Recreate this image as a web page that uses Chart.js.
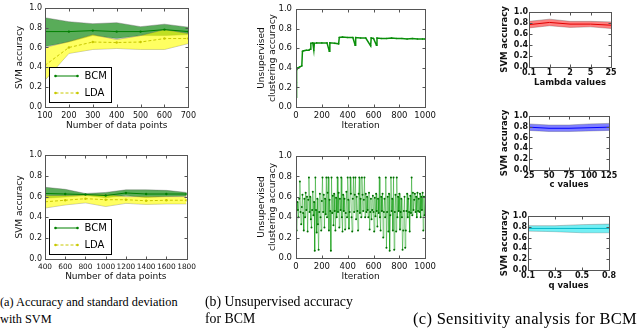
<!DOCTYPE html>
<html>
<head>
<meta charset="utf-8">
<script src="https://cdn.jsdelivr.net/npm/chart.js@4.4.1/dist/chart.umd.min.js"></script>
<style>
  body { margin: 0; background: #fff; }
  #wrap { position: relative; width: 640px; height: 330px; overflow: hidden; }
  canvas { position: absolute; }
  .cap { position: absolute; font-family: "Liberation Serif", "Times New Roman", serif; color: #000; white-space: nowrap; }
</style>
</head>
<body>
<div id="wrap">
  <canvas id="cA" width="200" height="140" style="left:0;top:0"></canvas>
  <canvas id="cB" width="200" height="150" style="left:0;top:140px"></canvas>
  <canvas id="cC" width="220" height="140" style="left:220px;top:0"></canvas>
  <canvas id="cD" width="220" height="150" style="left:220px;top:140px"></canvas>
  <canvas id="cE" width="190" height="100" style="left:450px;top:0"></canvas>
  <canvas id="cF" width="190" height="100" style="left:450px;top:110px"></canvas>
  <canvas id="cG" width="190" height="90" style="left:450px;top:210px"></canvas>
  <div class="cap" style="left:0;top:294px;font-size:12.3px;line-height:16.5px">(a) Accuracy and standard deviation<br>with SVM</div>
  <div class="cap" style="left:205px;top:294px;font-size:13.8px;line-height:16.5px">(b) Unsupervised accuracy<br>for BCM</div>
  <div class="cap" style="left:413px;top:309px;font-size:16.5px;line-height:19px;letter-spacing:0.3px">(c) Sensitivity analysis for BCM</div>
</div>
<script>
// (a) top: small data sets
const pointsSmall = [100, 200, 300, 400, 500, 600, 700];
const bcmSmallMean  = [0.76, 0.76, 0.77, 0.76, 0.76, 0.78, 0.76];
const bcmSmallUpper = [0.90, 0.86, 0.84, 0.85, 0.81, 0.835, 0.805];
const bcmSmallLower = [0.61, 0.655, 0.72, 0.69, 0.72, 0.72, 0.73];
const ldaSmallMean  = [0.42, 0.60, 0.655, 0.65, 0.655, 0.69, 0.69];
const ldaSmallUpper = [0.60, 0.66, 0.73, 0.68, 0.72, 0.78, 0.74];
const ldaSmallLower = [0.27, 0.54, 0.58, 0.59, 0.58, 0.58, 0.64];

// (a) bottom: larger data sets
const pointsLarge = [400, 600, 800, 1000, 1200, 1400, 1600, 1800];
const bcmLargeMean  = [0.63, 0.625, 0.62, 0.61, 0.635, 0.625, 0.625, 0.625];
const bcmLargeUpper = [0.69, 0.67, 0.63, 0.64, 0.665, 0.665, 0.66, 0.64];
const bcmLargeLower = [0.585, 0.595, 0.61, 0.59, 0.61, 0.59, 0.60, 0.605];
const ldaLargeMean  = [0.55, 0.565, 0.58, 0.57, 0.57, 0.56, 0.565, 0.565];
const ldaLargeUpper = [0.61, 0.61, 0.615, 0.62, 0.60, 0.60, 0.60, 0.60];
const ldaLargeLower = [0.49, 0.52, 0.54, 0.505, 0.535, 0.525, 0.53, 0.53];

// (b) top: BCM unsupervised accuracy over iterations
const bcmIter = [0, 3, 6, 15, 30, 45, 50, 60, 80, 100, 110, 115, 130, 138, 142, 160, 200, 240, 258, 262,
  300, 330, 335, 360, 400, 440, 458, 462, 500, 540, 578, 582, 600, 623, 627, 660, 700, 740, 780, 820,
  860, 900, 940, 980, 1000];
const bcmIterAcc = [0.10, 0.25, 0.38, 0.40, 0.41, 0.42, 0.57, 0.575, 0.58, 0.58, 0.59, 0.65, 0.655, 0.58, 0.65, 0.655, 0.655, 0.655, 0.57, 0.655,
  0.65, 0.645, 0.71, 0.715, 0.71, 0.71, 0.63, 0.71, 0.705, 0.705, 0.625, 0.705, 0.70, 0.63, 0.705, 0.70, 0.70, 0.705, 0.70, 0.70,
  0.695, 0.70, 0.695, 0.695, 0.695];

// (b) bottom: sampled every 5 iterations
const noisyStep = 5;
const noisyAcc = [
  0.42, 0.27, 0.55, 0.47, 0.40, 0.58, 0.75, 0.45, 0.33, 0.50,
  0.62, 0.44, 0.27, 0.58, 0.40, 0.64, 0.47, 0.60, 0.26, 0.57,
  0.79, 0.45, 0.60, 0.38, 0.30, 0.47, 0.65, 0.42, 0.55, 0.07,
  0.79, 0.47, 0.25, 0.58, 0.33, 0.08, 0.45, 0.63, 0.40, 0.27,
  0.56, 0.79, 0.45, 0.62, 0.30, 0.58, 0.43, 0.79, 0.40, 0.64,
  0.79, 0.27, 0.57, 0.46, 0.07, 0.79, 0.44, 0.61, 0.32, 0.63,
  0.46, 0.27, 0.59, 0.40, 0.79, 0.45, 0.64, 0.30, 0.58, 0.47,
  0.79, 0.40, 0.26, 0.62, 0.46, 0.58, 0.28, 0.44, 0.65, 0.40,
  0.79, 0.57, 0.29, 0.45, 0.79, 0.63, 0.40, 0.26, 0.58, 0.79,
  0.45, 0.62, 0.79, 0.38, 0.60, 0.46, 0.27, 0.63, 0.79, 0.44,
  0.58, 0.40, 0.79, 0.62, 0.46, 0.57, 0.79, 0.40, 0.63, 0.45,
  0.60, 0.47, 0.40, 0.64, 0.28, 0.45, 0.58, 0.38, 0.47, 0.61,
  0.45, 0.26, 0.59, 0.41, 0.63, 0.46, 0.31, 0.58, 0.44, 0.79,
  0.40, 0.27, 0.60, 0.46, 0.63, 0.20, 0.45, 0.58, 0.40, 0.79,
  0.10, 0.45, 0.60, 0.26, 0.63, 0.07, 0.42, 0.79, 0.46, 0.58,
  0.27, 0.79, 0.08, 0.45, 0.62, 0.26, 0.79, 0.40, 0.60, 0.46,
  0.63, 0.28, 0.45, 0.58, 0.40, 0.08, 0.27, 0.46, 0.60, 0.10,
  0.27, 0.46, 0.63, 0.40, 0.58, 0.45, 0.26, 0.61, 0.44, 0.79,
  0.42, 0.64, 0.47, 0.57, 0.63, 0.45, 0.60, 0.40, 0.64, 0.46,
  0.58, 0.45, 0.63, 0.40, 0.60, 0.47, 0.64, 0.27, 0.60, 0.42, 0.60
];

// (c) sensitivity
const lambdaLabels = ['0.1', '1', '2', '5', '25'];
const lambdaMean  = [0.77, 0.81, 0.78, 0.78, 0.76];
const lambdaUpper = [0.83, 0.87, 0.83, 0.83, 0.82];
const lambdaLower = [0.71, 0.75, 0.72, 0.73, 0.70];
const cLabels = ['25', '50', '75', '100', '125'];
const cMean  = [0.79, 0.77, 0.77, 0.78, 0.79];
const cUpper = [0.85, 0.83, 0.83, 0.85, 0.86];
const cLower = [0.73, 0.71, 0.71, 0.72, 0.73];
const qLabels = ['0.1', '0.3', '0.5', '0.8'];
const qMean  = [0.77, 0.77, 0.77, 0.77];
const qUpper = [0.82, 0.82, 0.84, 0.85];
const qLower = [0.72, 0.71, 0.69, 0.69];

const SANS = "'DejaVu Sans', sans-serif";

const pairs = (xs, ys) => ys.map((y, i) => ({ x: xs[i], y }));

// matplotlib-like box with inward ticks
const framePlugin = {
  id: 'frame',
  afterDatasetsDraw(chart) {
    const { ctx, chartArea: a, scales } = chart;
    const l = Math.round(a.left) + 0.5, r = Math.round(a.right) + 0.5;
    const t = Math.round(a.top) + 0.5, b = Math.round(a.bottom) + 0.5;
    ctx.save();
    ctx.strokeStyle = '#555';
    ctx.lineWidth = 1;
    ctx.strokeRect(l, t, r - l, b - t);
    ctx.beginPath();
    scales.x.ticks.forEach((tk, i) => {
      const px = Math.round(scales.x.getPixelForTick(i)) + 0.5;
      ctx.moveTo(px, b); ctx.lineTo(px, b - 3);
      ctx.moveTo(px, t); ctx.lineTo(px, t + 3);
    });
    scales.y.ticks.forEach((tk, i) => {
      const py = Math.round(scales.y.getPixelForTick(i)) + 0.5;
      ctx.moveTo(l, py); ctx.lineTo(l + 3, py);
      ctx.moveTo(r, py); ctx.lineTo(r - 3, py);
    });
    ctx.stroke();
    ctx.restore();
  }
};

// legend box in the lower left corner of the plot
const boxLegendPlugin = {
  id: 'boxLegend',
  afterDatasetsDraw(chart, args, opts) {
    if (!opts.items) return;
    const { ctx, chartArea: a } = chart;
    const x = Math.round(a.left) + 4.5, y = Math.round(a.bottom) - 4.5 - 35;
    ctx.save();
    ctx.fillStyle = '#fff';
    ctx.fillRect(x, y, 62, 35);
    ctx.strokeStyle = '#000';
    ctx.lineWidth = 1;
    ctx.strokeRect(x, y, 62, 35);
    opts.items.forEach((it, i) => {
      const yy = y + 8.5 + i * 17;
      ctx.strokeStyle = it.color;
      ctx.setLineDash(it.dash || []);
      ctx.beginPath();
      ctx.moveTo(x + 6, yy); ctx.lineTo(x + 28, yy);
      ctx.stroke();
      ctx.setLineDash([]);
      ctx.fillStyle = it.color;
      [x + 6, x + 28].forEach(px => { ctx.beginPath(); ctx.arc(px, yy, 1.3, 0, Math.PI * 2); ctx.fill(); });
      ctx.fillStyle = '#000';
      ctx.font = '10px ' + SANS;
      ctx.textBaseline = 'middle';
      ctx.fillText(it.label, x + 35, yy + 0.5);
    });
    ctx.restore();
  }
};

function bandSets(upper, lower, fillColor, xs) {
  const data = (arr) => xs ? pairs(xs, arr) : arr;
  return [
    { data: data(upper), fill: '+1', backgroundColor: fillColor, borderColor: 'rgba(90,90,90,0.45)', borderWidth: 0.8, pointRadius: 0, tension: 0 },
    { data: data(lower), fill: false, borderColor: 'rgba(90,90,90,0.45)', borderWidth: 0.8, pointRadius: 0, tension: 0 }
  ];
}

function makeChart(id, cfg) {
  const tickFont = cfg.tickFont;
  const xBase = {
    grid: { display: false, drawTicks: false },
    border: { display: false },
    title: { display: true, text: cfg.xTitle, font: cfg.titleFont, color: '#111', padding: { top: 0, bottom: cfg.xTitlePad } },
    afterFit: (s) => { s.height = cfg.xHeight; }
  };
  const xTicks = Object.assign({ font: cfg.xTickFont || tickFont, color: '#111', padding: cfg.xTickPad, maxRotation: 0, autoSkip: false }, cfg.xTicks || {});
  return new Chart(document.getElementById(id), {
    type: 'line',
    data: { labels: cfg.labels, datasets: cfg.datasets },
    plugins: [framePlugin, boxLegendPlugin],
    options: {
      responsive: false,
      animation: false,
      devicePixelRatio: 1,
      layout: { padding: cfg.padding },
      plugins: {
        legend: { display: false },
        tooltip: { enabled: false },
        boxLegend: { items: cfg.legend }
      },
      scales: {
        x: Object.assign(xBase, cfg.xScale, { ticks: xTicks }),
        y: {
          min: 0, max: 1,
          grid: { display: false, drawTicks: false },
          border: { display: false },
          ticks: { stepSize: 0.2, autoSkip: false, font: tickFont, color: '#111', padding: cfg.yTickPad, callback: v => v.toFixed(1) },
          title: { display: true, text: cfg.yTitle, font: cfg.titleFont, color: '#111', padding: { top: cfg.yTitlePad, bottom: 0 } },
          afterFit: (s) => { s.width = cfg.yWidth; }
        }
      }
    }
  });
}

const leftTick = { family: SANS, size: 8 };
const leftTitle = { family: SANS, size: 9, lineHeight: 1.2 };
const midTick = { family: SANS, size: 8.5 };
const midTitle = { family: SANS, size: 9, lineHeight: 1.2 };
const rightTick = { family: SANS, size: 8, weight: 'bold' };
const rightTitle = { family: SANS, size: 8.5, weight: 'bold', lineHeight: 1.2 };

const legendItems = [
  { label: 'BCM', color: '#008000' },
  { label: 'LDA', color: '#c8c800', dash: [3, 2] }
];

function accuracySets(xs, bMean, bUp, bLo, lMean, lUp, lLo) {
  return [
    { data: pairs(xs, bMean), borderColor: '#008000', borderWidth: 1, pointRadius: 1.2, pointBackgroundColor: '#008000', pointBorderWidth: 0, fill: false },
    { data: pairs(xs, lMean), borderColor: '#c8c800', borderWidth: 1, borderDash: [3, 2], pointRadius: 1.2, pointBackgroundColor: '#c8c800', pointBorderWidth: 0, fill: false },
    ...bandSets(lUp, lLo, 'rgba(255,255,0,0.62)', xs),
    ...bandSets(bUp, bLo, 'rgba(0,128,0,0.65)', xs)
  ];
}

const numLabel = v => String(v);

makeChart('cA', {
  datasets: accuracySets(pointsSmall, bcmSmallMean, bcmSmallUpper, bcmSmallLower, ldaSmallMean, ldaSmallUpper, ldaSmallLower),
  xScale: { type: 'linear', min: 100, max: 700 },
  xTicks: { stepSize: 100, callback: numLabel },
  padding: { left: 0, right: 9, top: 5, bottom: 0 },
  xHeight: 33, yWidth: 45, xTickPad: 4, yTickPad: 3, xTitlePad: 8.6, yTitlePad: 14.6,
  xTitle: 'Number of data points', yTitle: 'SVM accuracy',
  tickFont: leftTick, titleFont: leftTitle, legend: legendItems
});

makeChart('cB', {
  datasets: accuracySets(pointsLarge, bcmLargeMean, bcmLargeUpper, bcmLargeLower, ldaLargeMean, ldaLargeUpper, ldaLargeLower),
  xScale: { type: 'linear', min: 400, max: 1800 },
  xTicks: { stepSize: 200, callback: numLabel },
  xTickFont: { family: SANS, size: 7.4 },
  padding: { left: 0, right: 9, top: 15, bottom: 0 },
  xHeight: 31, yWidth: 45, xTickPad: 4, yTickPad: 3, xTitlePad: 7.6, yTitlePad: 14.6,
  xTitle: 'Number of data points', yTitle: 'SVM accuracy',
  tickFont: leftTick, titleFont: leftTitle, legend: legendItems
});

makeChart('cC', {
  datasets: [{ data: pairs(bcmIter, bcmIterAcc), borderColor: '#0a900a', borderWidth: 1.5, pointRadius: 0.8, pointBackgroundColor: '#0a8a0a', pointBorderWidth: 0, fill: false }],
  xScale: { type: 'linear', min: 0, max: 1000 },
  xTicks: { stepSize: 200, callback: numLabel },
  padding: { left: 0, right: 12, top: 4, bottom: 0 },
  xHeight: 33, yWidth: 76, xTickPad: 4, yTickPad: 4, xTitlePad: 8.6, yTitlePad: 36.5,
  xTitle: 'Iteration', yTitle: ['Unsupervised', 'clustering accuracy'],
  tickFont: midTick, titleFont: midTitle
});

makeChart('cD', {
  datasets: [{ data: noisyAcc.map((v, i) => ({ x: i * noisyStep, y: v })), borderColor: 'rgba(0,150,0,0.45)', borderWidth: 1, pointRadius: 1, pointBackgroundColor: '#006f00', pointBorderWidth: 0, fill: false }],
  xScale: { type: 'linear', min: 0, max: 1000 },
  xTicks: { stepSize: 200, callback: numLabel },
  padding: { left: 0, right: 12, top: 16, bottom: 0 },
  xHeight: 32, yWidth: 76, xTickPad: 4, yTickPad: 4, xTitlePad: 7.6, yTitlePad: 36.5,
  xTitle: 'Iteration', yTitle: ['Unsupervised', 'clustering accuracy'],
  tickFont: midTick, titleFont: midTitle
});

function sensitivitySets(mean, upper, lower, line, band) {
  return [
    { data: mean, borderColor: line, borderWidth: 1, pointRadius: 0, fill: false },
    ...bandSets(upper, lower, band)
  ];
}

makeChart('cE', {
  labels: lambdaLabels,
  datasets: sensitivitySets(lambdaMean, lambdaUpper, lambdaLower, '#e00000', 'rgba(255,0,0,0.5)'),
  xScale: { type: 'category' },
  padding: { left: 0, right: 29, top: 12, bottom: 0 },
  xHeight: 33, yWidth: 79, xTickPad: 1, yTickPad: 1, xTitlePad: 12, yTitlePad: 50,
  xTitle: 'Lambda values', yTitle: 'SVM accuracy',
  tickFont: rightTick, titleFont: rightTitle
});

makeChart('cF', {
  labels: cLabels,
  datasets: sensitivitySets(cMean, cUpper, cLower, '#0000ff', 'rgba(0,0,255,0.5)'),
  xScale: { type: 'category' },
  padding: { left: 0, right: 31, top: 4, bottom: 0 },
  xHeight: 40, yWidth: 79, xTickPad: 1, yTickPad: 1, xTitlePad: 20, yTitlePad: 50,
  xTitle: 'c values', yTitle: 'SVM accuracy',
  tickFont: rightTick, titleFont: rightTitle
});

makeChart('cG', {
  labels: qLabels,
  datasets: sensitivitySets(qMean, qUpper, qLower, '#00b8c8', 'rgba(0,225,235,0.55)'),
  xScale: { type: 'category' },
  padding: { left: 0, right: 31, top: 6, bottom: 0 },
  xHeight: 30, yWidth: 78, xTickPad: 1, yTickPad: 1, xTitlePad: 9, yTitlePad: 50,
  xTitle: 'q values', yTitle: 'SVM accuracy',
  tickFont: rightTick, titleFont: rightTitle
});
</script>
</body>
</html>
